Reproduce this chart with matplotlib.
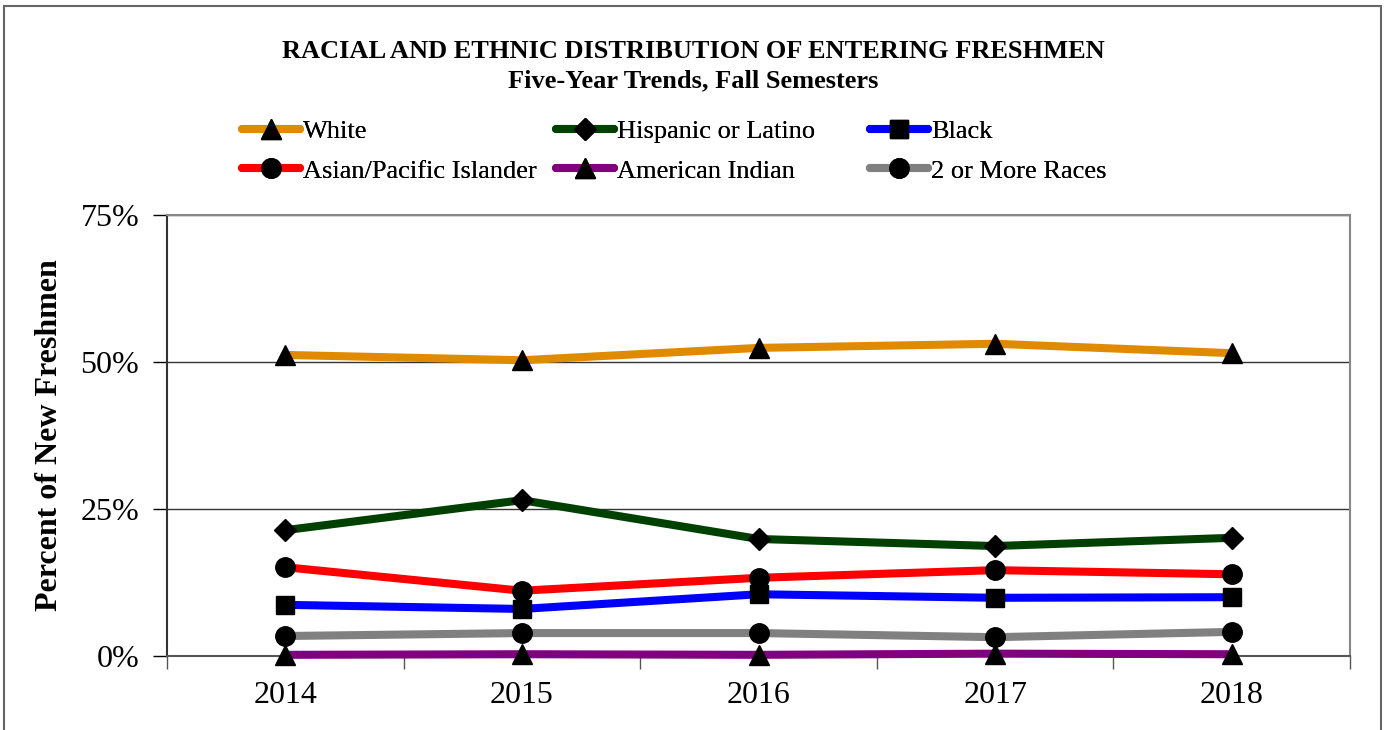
import matplotlib
matplotlib.use("Agg")
import matplotlib.pyplot as plt
from matplotlib.patches import Rectangle
from matplotlib.ticker import FixedLocator, PercentFormatter

years = ["2014", "2015", "2016", "2017", "2018"]
white = [51.2, 50.3, 52.4, 53.1, 51.5]
hispanic = [21.4, 26.5, 19.9, 18.7, 20.1]
black = [8.7, 8.0, 10.5, 9.9, 10.0]
asian = [15.1, 11.1, 13.3, 14.6, 13.9]
amind = [0.2, 0.3, 0.2, 0.4, 0.3]
multi = [3.4, 3.9, 3.9, 3.2, 4.1]

series_names = ["White", "Hispanic or Latino", "Black",
                "Asian/Pacific Islander", "American Indian", "2 or More Races"]
series_vals = [white, hispanic, black, asian, amind, multi]
colors = ["#E08A00", "#004000", "#0000FF", "#FF0000", "#800080", "#808080"]
markers = ["^", "D", "s", "o", "^", "o"]
msizes = [15, 11, 13, 14, 15, 14]
yticks = [0, 25, 50, 75]

plt.rcParams["font.family"] = ["Liberation Serif", "DejaVu Serif"]

fig = plt.figure(figsize=(13.87, 7.30), dpi=100)
ax = fig.add_axes([167/1387, 1-656/730, (1350-167)/1387, (656-215)/730])

x = list(range(len(years)))
handles = []
for name, vals, c, m, ms in zip(series_names, series_vals, colors, markers, msizes):
    h, = ax.plot(x, vals, color=c, lw=5.8, marker=m, markersize=ms,
                 markerfacecolor="black", markeredgecolor="black", label=name,
                 solid_capstyle="round", clip_on=False, zorder=3)
    handles.append(h)

ax.set_xlim(-0.5, len(years) - 0.5)
ax.set_ylim(0, 75)
ax.set_xticks(x)
ax.set_xticklabels(years, fontsize=23)
ax.xaxis.set_minor_locator(FixedLocator([i - 0.5 for i in range(len(years) + 1)]))
ax.tick_params(axis="x", which="major", length=0, pad=18)
ax.tick_params(axis="x", which="minor", length=9, width=1, color="#555555", direction="out")
ax.set_yticks(yticks)
ax.yaxis.set_major_formatter(PercentFormatter(decimals=0))
ax.tick_params(axis="y", which="major", length=10, width=1, labelsize=23, pad=10)
ax.grid(axis="y", color="#333333", lw=1)
ax.set_axisbelow(True)
for s in ["top", "right"]:
    ax.spines[s].set_color("#888888")
    ax.spines[s].set_linewidth(1.5)
ax.spines["left"].set_color("#333333")
ax.spines["left"].set_linewidth(1.5)
ax.spines["bottom"].set_color("#555555")
ax.spines["bottom"].set_linewidth(1.5)

ax.set_ylabel("Percent of New Freshmen", fontsize=23, fontweight="bold")
ax.yaxis.set_label_coords((50 - 167) / (1350 - 167), 0.5)
ax.yaxis.label.set_va("center")

fig.text(0.5, 1-51/730, "RACIAL AND ETHNIC DISTRIBUTION OF ENTERING FRESHMEN",
         ha="center", va="center", fontsize=19, fontweight="bold")
fig.text(0.5, 1-81/730, "Five-Year Trends, Fall Semesters",
         ha="center", va="center", fontsize=19, fontweight="bold")

col_groups = [[0, 3], [1, 4], [2, 5]]
col_x = [242, 556, 870]
for grp, cx in zip(col_groups, col_x):
    leg = fig.legend([handles[i] for i in grp], [series_names[i] for i in grp],
                     ncol=1, loc="center left", bbox_to_anchor=(cx/1387, 1-151/730),
                     frameon=False, fontsize=19, handlelength=2.2, handletextpad=0.12,
                     labelspacing=0.62, borderpad=0, borderaxespad=0)
    fig.add_artist(leg)

fig.add_artist(Rectangle((4/1387, -0.05), (1381-4)/1387, 1.05-6/730, transform=fig.transFigure,
                         fill=False, edgecolor="#666666", lw=1.5, clip_on=False))

fig.savefig("out.png", dpi=100)
